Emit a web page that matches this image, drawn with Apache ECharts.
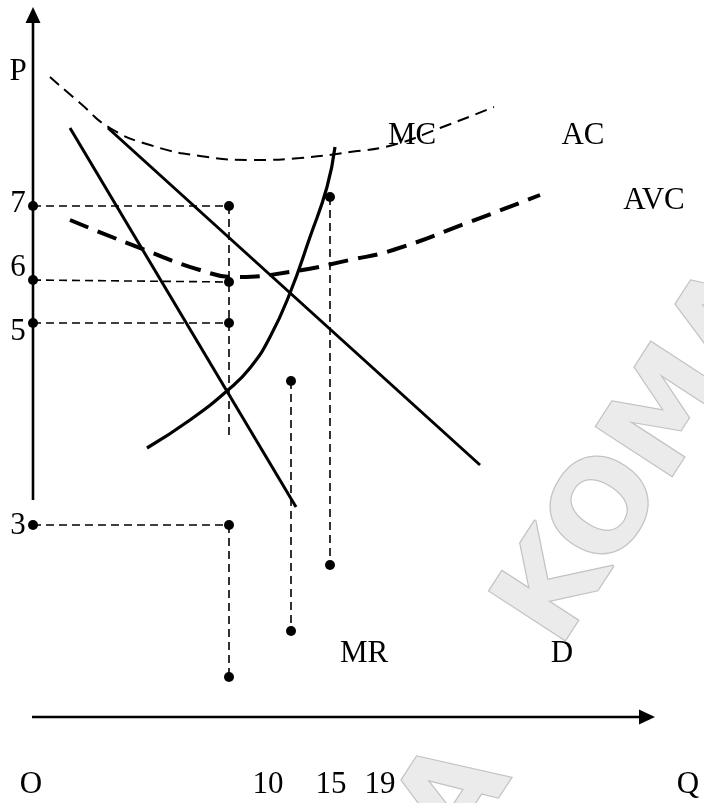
<!DOCTYPE html>
<html>
<head>
<meta charset="utf-8">
<title>MC AC AVC MR D</title>
<script src="https://cdn.jsdelivr.net/npm/echarts@6/dist/echarts.min.js"></script>
<style>
body{padding:0;margin:0;background:#fff;}
#chartmain{width:704px;height:803px;}
</style>
</head>
<body>
<div id="chartmain"></div>
<script type="text/javascript">
// x = distance from O along Q, y = height above the Q axis
var acCurve  = [[17,640],[47,614],[77,589],[117,572],[167,561],[220,557],[267,559],[317,565],[360,572],[407,589],[461,610]];
var avcCurve = [[37,497],[112,467],[167,447],[202,440],[257,445],[317,457],[360,467],[434,494],[507,522]];
var mcCurve  = [[114,269],[157,297],[195,327],[217,349],[237,380],[257,424],[277,480],[294,530],[302,570]];
var mrLine   = [[37,589],[263,210]];
var dLine    = [[75,589],[447,252]];

// dashed guides
var guides = [
	[[0,511],[196,511]],
	[[0,437],[196,435]],
	[[0,394],[196,394]],
	[[0,192],[196,192]],
	[[196,511],[196,280]],
	[[196,192],[196,40]],
	[[258,336],[258,86]],
	[[297,520],[297,152]]
];
var dots = [[0,511],[196,511],[0,437],[196,435],[0,394],[196,394],[0,192],[196,192],[196,40],[258,336],[258,86],[297,520],[297,152]];

// tick labels
var pLabels = ['P','7','6','5','3'];
var pLabelY = [645,513,449,385,191];
var qLabels = ['O','10','15','19','Q'];
var qLabelX = [-2,235,298,347,655];
var curveNames = ['MC','AC','AVC','MR','D'];
var curveNameAt = [[379,581],[550,581],[621,516],[331,63],[529,63]];

var labelData = [];
pLabels.forEach(function(t,i){ labelData.push({name:t, value:[-15,pLabelY[i]]}); });
qLabels.forEach(function(t,i){ labelData.push({name:t, value:[qLabelX[i],-68]}); });
curveNames.forEach(function(t,i){ labelData.push({name:t, value:curveNameAt[i]}); });

function lineSeries(data, width, type){
	return {
		type:'line', data:data, symbol:'none', silent:true,
		lineStyle:{color:'#000', width:width, type:type || 'solid'},
		z:3
	};
}

var series = [];
series.push(lineSeries([[0,217],[0,700]],2.6));
series.push(lineSeries([[-1,0],[612,0]],2.6));
series.push({
	type:'scatter', symbol:'triangle', symbolSize:[15,16], z:4, silent:true,
	itemStyle:{color:'#000', opacity:1},
	data:[{value:[0,702],symbolRotate:0},{value:[614,0],symbolRotate:-90}]
});
guides.forEach(function(g){ series.push(lineSeries(g,1.6,[8,5])); });
var ac = lineSeries(acCurve,2,[12,7]); ac.smooth = true; series.push(ac);
var avc = lineSeries(avcCurve,4,[20,10]); avc.smooth = true; series.push(avc);
var mc = lineSeries(mcCurve,3.2); mc.smooth = true; series.push(mc);
series.push(lineSeries(mrLine,3));
series.push(lineSeries(dLine,3));
series.push({
	type:'scatter', data:dots, symbolSize:10, z:5, silent:true,
	itemStyle:{color:'#000', opacity:1}
});
series.push({
	type:'scatter', data:labelData, symbolSize:1, z:6, silent:true,
	itemStyle:{color:'#fff', opacity:0},
	label:{
		show:true, position:'inside', formatter:'{b}',
		color:'#000', opacity:1, fontFamily:'Liberation Serif', fontSize:31
	}
});

function watermark(x, y){
	return {
		type:'text', x:x, y:y, rotation:57*Math.PI/180, z:-1, silent:true,
		style:{
			text:'KOMA', font:'bold 124px "DejaVu Sans"',
			fill:'#ebebeb', stroke:'#c2c2c2', lineWidth:2.5,
			align:'left', verticalAlign:'middle'
		}
	};
}

var myChart = echarts.init(document.getElementById('chartmain'));
myChart.setOption({
	animation:false,
	grid:{left:0,right:0,top:0,bottom:0},
	xAxis:{type:'value', min:-33, max:671, show:false},
	yAxis:{type:'value', min:-86, max:717, show:false},
	graphic:[watermark(532,632), watermark(258,1108)],
	series:series
});
</script>
</body>
</html>
